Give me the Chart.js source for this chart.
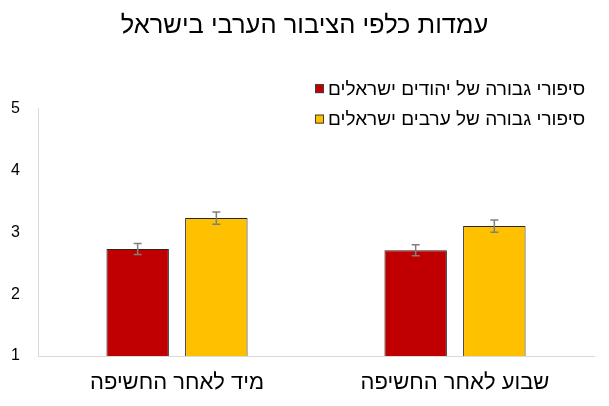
<!DOCTYPE html>
<html>
<head>
<meta charset="utf-8">
<script src="https://cdn.jsdelivr.net/npm/chart.js@4.4.1/dist/chart.umd.min.js"></script>
<style>
  html, body { margin: 0; padding: 0; background: #fff; }
  #wrap { width: 609px; height: 406px; position: relative; }
</style>
</head>
<body>
<div id="wrap"><canvas id="bars"></canvas></div>
<script>
var categories = ['מיד לאחר החשיפה', 'שבוע לאחר החשיפה'];
var seriesNames = ['סיפורי גבורה של יהודים ישראלים', 'סיפורי גבורה של ערבים ישראלים'];
var jewishHeroes = [2.73, 2.71];
var arabHeroes = [3.23, 3.10];
var jewishErr = [0.09, 0.09];
var arabErr = [0.10, 0.10];
var yTicks = [1, 2, 3, 4, 5];

var fontFamily = "'Liberation Sans', Arial, sans-serif";

// error bars drawn from each bar element and the y scale
var errorBars = {
    id: 'errorBars',
    afterDatasetsDraw: function(chart) {
        var ctx = chart.ctx;
        var y = chart.scales.y;
        ctx.save();
        ctx.strokeStyle = '#7f7f7f';
        ctx.lineWidth = 1.5;
        chart.data.datasets.forEach(function(ds, di) {
            var meta = chart.getDatasetMeta(di);
            meta.data.forEach(function(bar, i) {
                var v = ds.data[i], e = ds.errors[i];
                var top = y.getPixelForValue(v + e);
                var bot = y.getPixelForValue(v - e);
                ctx.beginPath();
                ctx.moveTo(bar.x, top); ctx.lineTo(bar.x, bot);
                ctx.moveTo(bar.x - 4, top); ctx.lineTo(bar.x + 4, top);
                ctx.moveTo(bar.x - 4, bot); ctx.lineTo(bar.x + 4, bot);
                ctx.stroke();
            });
        });
        ctx.restore();
    }
};

// legend sits over the top of the plot, like the original
var overlayLegend = {
    id: 'overlayLegend',
    afterDraw: function(chart) {
        var ctx = chart.ctx;
        var area = chart.chartArea;
        var boxX = 315;
        ctx.save();
        ctx.font = '19px ' + fontFamily;
        ctx.textBaseline = 'middle';
        ctx.textAlign = 'left';
        chart.data.datasets.forEach(function(ds, i) {
            var cy = area.top - 20 + i * 30.5;
            ctx.fillStyle = ds.backgroundColor;
            ctx.fillRect(boxX, cy - 4.5, 9, 9);
            ctx.strokeStyle = '#404040';
            ctx.lineWidth = 1;
            ctx.strokeRect(boxX + 0.5, cy - 4.5 + 0.5, 8, 8);
            ctx.fillStyle = '#000';
            ctx.fillText(ds.label, boxX + 13, cy + 1);
        });
        ctx.restore();
    }
};

var ctx = document.getElementById('bars').getContext('2d');
var myChart = new Chart(ctx, {
    type: 'bar',
    data: {
        labels: categories,
        datasets: [{
            label: seriesNames[0],
            data: jewishHeroes,
            errors: jewishErr,
            backgroundColor: '#c00000',
            borderColor: '#262626',
            borderWidth: 1
        }, {
            label: seriesNames[1],
            data: arabHeroes,
            errors: arabErr,
            backgroundColor: '#ffc000',
            borderColor: '#262626',
            borderWidth: 1
        }]
    },
    options: {
        responsive: true,
        maintainAspectRatio: false,
        animation: false,
        categoryPercentage: 0.566,
        barPercentage: 0.794,
        layout: {
            padding: 0
        },
        plugins: {
            title: {
                display: true,
                text: 'עמדות כלפי הציבור הערבי בישראל',
                color: '#000',
                font: { size: 25.5, family: fontFamily, weight: 'normal' },
                padding: { top: 11, bottom: 67 }
            },
            legend: { display: false },
            tooltip: { enabled: false }
        },
        scales: {
            x: {
                grid: { display: false, drawTicks: false },
                border: { color: '#d9d9d9', width: 1 },
                afterFit: function(axis) { axis.height = 50; },
                ticks: {
                    color: '#000',
                    padding: 14,
                    font: { size: 22, family: fontFamily }
                }
            },
            y: {
                min: 1,
                max: 5,
                grid: { display: false, drawTicks: false },
                border: { color: '#d9d9d9', width: 1 },
                afterFit: function(axis) { axis.width = 38; },
                afterBuildTicks: function(axis) {
                    axis.ticks = yTicks.map(function(v) { return { value: v }; });
                },
                ticks: {
                    color: '#000',
                    padding: 18,
                    font: { size: 16, family: fontFamily }
                }
            },
            // empty right margin so the title stays centred on the page
            y2: {
                position: 'right',
                min: 1,
                max: 5,
                grid: { display: false, drawTicks: false },
                border: { display: false },
                ticks: { display: false },
                afterFit: function(axis) { axis.width = 15; }
            }
        }
    },
    plugins: [errorBars, overlayLegend]
});
</script>
</body>
</html>
